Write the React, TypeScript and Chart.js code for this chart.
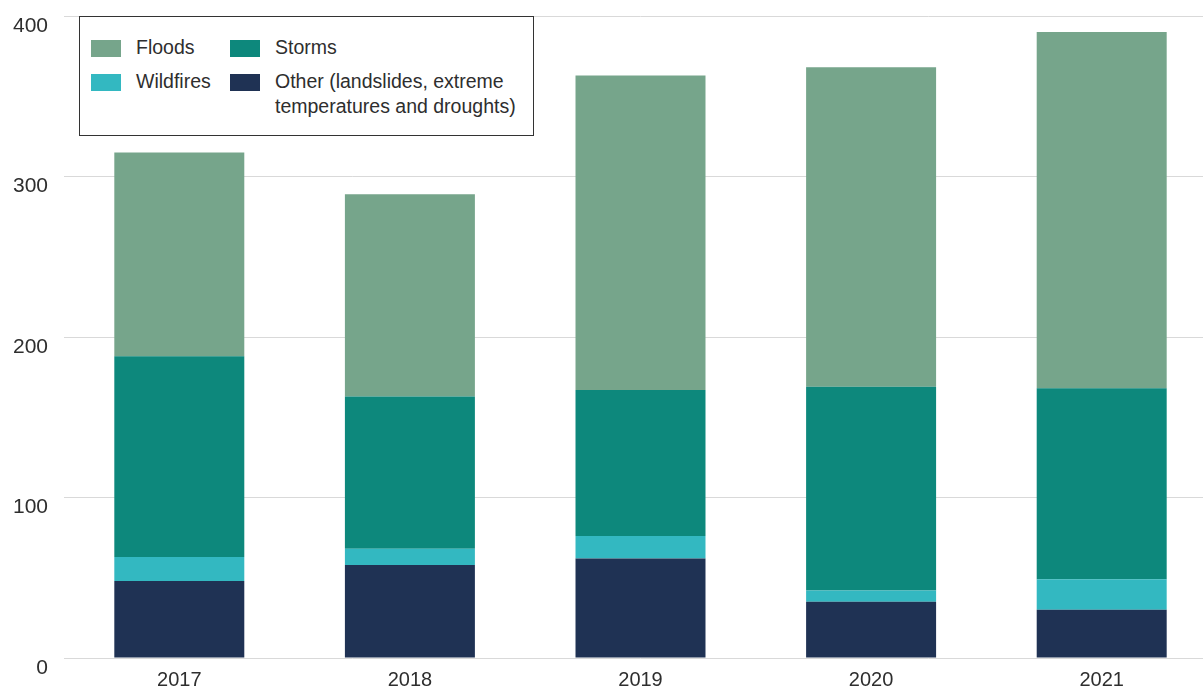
import React, { useEffect, useRef } from "react";
import { Chart, registerables } from "chart.js";

Chart.register(...registerables);

const years = ["2017", "2018", "2019", "2020", "2021"];
const other = [48, 58, 62, 35, 30];
const wildfires = [15, 10, 14, 7, 19];
const storms = [125, 95, 91, 127, 119];
const floods = [127, 126, 196, 199, 222];
const yTicks = [0, 100, 200, 300, 400];

const COLORS = {
  floods: "#76a58b",
  storms: "#0d887c",
  wildfires: "#33b8c1",
  other: "#1f3254",
};

const FONT = "'Liberation Sans', Arial, sans-serif";
const TEXT = "#2e2e2e";

export default function App() {
  const ref = useRef<HTMLCanvasElement | null>(null);

  useEffect(() => {
    if (!ref.current) return;
    const chart = new Chart(ref.current, {
      type: "bar",
      data: {
        labels: years,
        datasets: [
          { label: "Other", data: other, backgroundColor: COLORS.other },
          { label: "Wildfires", data: wildfires, backgroundColor: COLORS.wildfires },
          { label: "Storms", data: storms, backgroundColor: COLORS.storms },
          { label: "Floods", data: floods, backgroundColor: COLORS.floods },
        ],
      },
      options: {
        animation: false,
        responsive: true,
        maintainAspectRatio: false,
        layout: { padding: { top: 16, left: 0, right: 0, bottom: 0 } },
        plugins: { legend: { display: false }, tooltip: { enabled: false } },
        datasets: { bar: { categoryPercentage: 1, barPercentage: 0.5637, borderWidth: 0 } },
        scales: {
          x: {
            stacked: true,
            grid: { display: false, drawTicks: false },
            border: { display: false },
            ticks: { color: TEXT, font: { family: FONT, size: 20 }, padding: 10 },
            afterFit: (s: any) => {
              s.height = 30;
            },
          },
          y: {
            stacked: true,
            min: 0,
            max: 400,
            afterBuildTicks: (s: any) => {
              s.ticks = yTicks.map((v) => ({ value: v }));
            },
            grid: { color: "#d9d9d9", lineWidth: 1, drawTicks: false },
            border: { display: false },
            ticks: {
              color: TEXT,
              font: { family: FONT, size: 21 },
              padding: 16,
              labelOffset: 10,
            },
            afterFit: (s: any) => {
              s.width = 64;
              s.paddingTop = 0;
              s.paddingBottom = 0;
            },
          },
        },
      },
    });
    return () => chart.destroy();
  }, []);

  const sw = (c: string, left: number, top: number) => (
    <div style={{ position: "absolute", left, top, width: 30, height: 17, background: c }} />
  );
  const txt = (t: React.ReactNode, left: number, top: number) => (
    <div
      style={{
        position: "absolute",
        left,
        top,
        fontFamily: FONT,
        fontSize: 19.5,
        lineHeight: "25px",
        color: TEXT,
        whiteSpace: "nowrap",
      }}
    >
      {t}
    </div>
  );

  return (
    <div
      style={{
        position: "fixed",
        left: 0,
        top: 0,
        width: 1203,
        height: 688,
        overflow: "hidden",
        background: "#fff",
      }}
    >
      <div style={{ position: "absolute", left: 0, top: 0, width: 1217, height: 688 }}>
        <canvas ref={ref} />
      </div>
      <div
        style={{
          position: "absolute",
          left: 79,
          top: 16,
          width: 455,
          height: 120,
          boxSizing: "border-box",
          border: "1px solid #333",
          background: "#fff",
        }}
      >
        {sw(COLORS.floods, 11, 23)}
        {txt("Floods", 56, 18)}
        {sw(COLORS.storms, 150, 23)}
        {txt("Storms", 195, 18)}
        {sw(COLORS.wildfires, 11, 57)}
        {txt("Wildfires", 56, 52)}
        {sw(COLORS.other, 150, 57)}
        {txt(
          <>
            Other (landslides, extreme
            <br />
            temperatures and droughts)
          </>,
          195,
          52
        )}
      </div>
    </div>
  );
}
